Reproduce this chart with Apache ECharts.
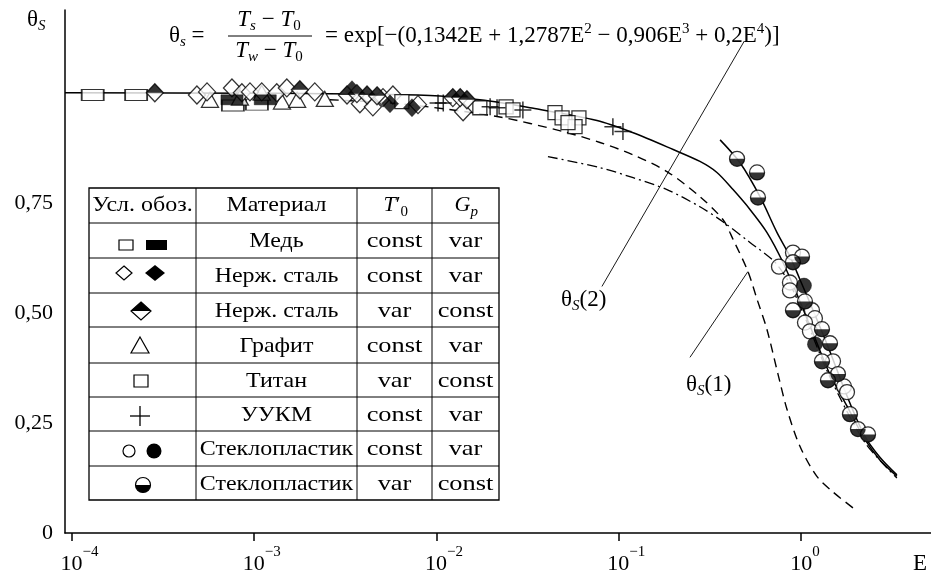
<!DOCTYPE html>
<html><head><meta charset="utf-8">
<script src="https://cdn.jsdelivr.net/npm/echarts@6/dist/echarts.min.js"></script>
<style>html,body{margin:0;padding:0;background:#fff}#c{width:931px;height:575px}</style>
</head><body><div id="c"></div>
<script>
// ---------- axis ticks ----------
const xTickExponents = [-4, -3, -2, -1, 0];
const yTickValues = [0, 0.25, 0.5, 0.75];
const yTickLabels = ['0', '0,25', '0,50', '0,75'];

// ---------- curves [E, theta] ----------
const curveMain = [[9.16e-5,1.0],[0.001,0.999],[0.0092,0.994],[0.0173,0.984],[0.0326,0.966],[0.076,0.937],[0.120,0.909],[0.199,0.871],[0.279,0.844],[0.346,0.819],[0.424,0.780],[0.525,0.735],[0.650,0.683],[0.796,0.615],[0.987,0.526],[1.19,0.444],[1.44,0.361],[1.79,0.288],[2.24,0.213],[2.71,0.166],[3.36,0.129]];
const curveGlass = [[0.360,0.893],[0.463,0.841],[0.596,0.764],[0.738,0.683],[0.871,0.628],[0.987,0.576],[1.19,0.497],[1.44,0.413],[1.79,0.311],[2.24,0.220],[2.71,0.172],[3.36,0.132]];
const curveTheta1 = [[0.0026,0.984],[0.0063,0.975],[0.0215,0.946],[0.0494,0.912],[0.0789,0.887],[0.120,0.859],[0.184,0.821],[0.279,0.764],[0.373,0.712],[0.424,0.667],[0.512,0.594],[0.574,0.531],[0.650,0.463],[0.748,0.361],[0.838,0.281],[0.987,0.197],[1.22,0.129],[1.50,0.093],[2.03,0.050]];
const curveTheta2 = [[0.0409,0.855],[0.0789,0.830],[0.120,0.807],[0.184,0.780],[0.279,0.741],[0.373,0.707],[0.525,0.660],[0.720,0.615],[0.870,0.565],[1.052,0.490],[1.443,0.354],[2.24,0.206],[3.36,0.125]];
const leaderTheta2 = [[0.0809,0.560],[0.4866,1.116]];
const leaderTheta1 = [[0.246,0.399],[0.512,0.594]];

// ---------- experimental points [E, theta] ----------
const copperOpen = [[1.30e-4,0.995],[2.25e-4,0.995],[7.64e-4,0.971],[1.035e-3,0.973]];
const copperFilled = [[7.55e-4,0.984],[1.15e-3,0.984]];
const steelOpen = [[4.85e-4,0.995],[5.51e-4,1.002],[7.55e-4,1.011],[8.56e-4,1.0],[9.48e-4,1.002],[1.10e-3,1.002],[1.33e-3,1.0],[1.51e-3,1.011],[2.15e-3,1.002],[3.80e-3,0.975],[4.48e-3,0.968],[5.09e-3,0.989],[5.77e-3,0.995],[7.92e-3,0.973],[0.0140,0.957]];
const steelFilled = [[3.44e-3,1.007],[5.56e-3,0.975],[7.34e-3,0.966]];
const steelHalf = [[2.85e-4,1.0],[1.78e-3,1.007],[3.23e-3,0.995],[3.66e-3,0.998],[4.16e-3,0.995],[4.72e-3,0.993],[0.0123,0.989],[0.0135,0.989],[0.0147,0.984]];
const graphite = [[5.72e-4,0.984],[8.35e-4,0.989],[1.10e-3,1.0],[1.42e-3,0.980],[1.72e-3,0.984],[2.44e-3,0.986]];
const titanium = [[6.46e-3,0.980],[0.0173,0.966],[0.0241,0.968],[0.0263,0.961],[0.0447,0.955],[0.0489,0.943],[0.0605,0.943],[0.0576,0.923],[0.0527,0.932]];
const uukm = [[0.0102,0.977],[0.0109,0.977],[0.0197,0.968],[0.0215,0.966],[0.0298,0.961],[0.0929,0.923],[0.1055,0.912]];
const glassOpen = [[0.904,0.637],[0.7575,0.605],[0.870,0.569],[0.870,0.551],[1.149,0.506],[1.193,0.488],[1.052,0.478],[1.120,0.458],[1.499,0.390],[1.722,0.333],[1.789,0.320]];
const glassFilled = [[1.039,0.562],[1.193,0.429]];
const glassHalf = [[0.446,0.850],[0.574,0.819],[0.581,0.762],[1.013,0.628],[0.904,0.615],[1.052,0.526],[0.904,0.506],[1.304,0.463],[1.443,0.431],[1.304,0.390],[1.596,0.361],[1.407,0.347],[1.857,0.270],[2.055,0.236],[2.332,0.224]];

// ---------- table ----------
const tableHeader = ['Усл. обоз.', 'Материал'];
const materials = ['Медь','Нерж. сталь','Нерж. сталь','Графит','Титан','УУКМ','Стеклопластик','Стеклопластик'];
const t0Column = ['const','const','var','const','var','const','const','var'];
const gpColumn = ['var','var','const','var','const','var','var','const'];

const FF = '"Liberation Serif", "Times New Roman", serif';
const chart = echarts.init(document.getElementById('c'), null, {renderer:'canvas'});

// half circle (bottom half) path
let hc = 'path://M0,0';
for (let i = 0; i <= 24; i++) { const t = Math.PI * i / 24; hc += ' L' + (10 + 10*Math.cos(t)).toFixed(3) + ',' + (10*Math.sin(t)).toFixed(3); }
hc += ' Z';
const halfCirclePath = hc;
const halfDiamondPath = 'path://M0,10 L10,0 L20,10 Z';
const plusPath = 'path://M0,10 L20,10 M10,0 L10,20';

const openStyle = {color:'#fff', borderColor:'#000', borderWidth:1.3};
const blackStyle = {color:'#000', borderColor:'#000', borderWidth:0.5};

function sc(name, data, symbol, size, style, extra) {
  return Object.assign({type:'scatter', name, data, symbol, symbolSize:size, itemStyle:style, silent:true, z:5}, extra||{});
}
function ln(data, width, type, extra) {
  return Object.assign({type:'line', data, symbol:'none', showSymbol:false, silent:true, smooth:0.3,
    lineStyle:{color:'#000', width:width, type:type}, z:3}, extra||{});
}

const rich = {
  m: {fontFamily:FF, fontSize:23, lineHeight:28, verticalAlign:'middle', color:'#000'},
  it: {fontFamily:FF, fontSize:23, fontStyle:'italic', lineHeight:28, verticalAlign:'middle', color:'#000'},
  sub: {fontFamily:FF, fontSize:15, fontStyle:'italic', lineHeight:15, verticalAlign:'bottom', color:'#000'},
  subr: {fontFamily:FF, fontSize:15, lineHeight:15, verticalAlign:'bottom', color:'#000'},
  sup: {fontFamily:FF, fontSize:15, lineHeight:15, verticalAlign:'top', color:'#000'}
};
function rt(x, y, text, align, extraRich, sx) {
  return {type:'text', x:x, y:y, scaleX:sx||1, z:20, silent:true,
    style:{x:0, y:0, text:text, rich:Object.assign({}, rich, extraRich||{}), align:align||'left', textAlign:align||'left', verticalAlign:'middle', textVerticalAlign:'middle', fill:'#000', font:'23px '+FF}};
}
function tx(x, y, text, size, sx) {
  return {type:'text', x:x, y:y, scaleX:sx||1, z:20, silent:true, style:{x:0, y:0, text:text, font:(size||22)+'px '+FF, fill:'#000', align:'center', textAlign:'center', verticalAlign:'middle', textVerticalAlign:'middle'}};
}

// ---------- graphic: table + annotations ----------
const colX = [89,196,357,432,499];
const rowY = [188,223,258,293,327,363,397,431,466,500];
const TS = 1.09; // horizontal stretch of table text
const G = [];
G.push({type:'rect', z:15, silent:true, shape:{x:colX[0], y:rowY[0], width:colX[4]-colX[0], height:rowY[9]-rowY[0]}, style:{fill:'#fff', stroke:'#000', lineWidth:1.3}});
for (let i = 1; i < 4; i++) G.push({type:'line', z:16, silent:true, shape:{x1:colX[i], y1:rowY[0], x2:colX[i], y2:rowY[9]}, style:{stroke:'#000', lineWidth:1}});
for (let j = 1; j < 9; j++) G.push({type:'line', z:16, silent:true, shape:{x1:colX[0], y1:rowY[j], x2:colX[4], y2:rowY[j]}, style:{stroke:'#000', lineWidth:1}});
const cx = i => (colX[i]+colX[i+1])/2, cy = j => (rowY[j]+rowY[j+1])/2;
G.push(tx(cx(0), cy(0), tableHeader[0], 22, TS));
G.push(tx(cx(1), cy(0), tableHeader[1], 22, TS));
G.push(rt(cx(2)-11, cy(0), '{it|T}{m|′}{subr|0}', 'left', {m:{fontFamily:FF,fontSize:22,lineHeight:28,verticalAlign:'middle'}, it:{fontFamily:FF,fontSize:22,fontStyle:'italic',lineHeight:28,verticalAlign:'middle'}}));
G.push(rt(cx(3)-11, cy(0), '{it|G}{sub|p}', 'left', {it:{fontFamily:FF,fontSize:22,fontStyle:'italic',lineHeight:28,verticalAlign:'middle'}}));
materials.forEach((m, k) => {
  G.push(tx(cx(1), cy(k+1)+1, m, 22, TS));
  G.push(tx(cx(2), cy(k+1)+1, t0Column[k], 22, 1.2));
  G.push(tx(cx(3), cy(k+1)+1, gpColumn[k], 22, 1.2));
});
const LS = {stroke:'#000', lineWidth:1.2, fill:'#fff'};
const LB = {fill:'#000'};
// row 1 copper
G.push({type:'rect', z:17, silent:true, shape:{x:119, y:240, width:14, height:10}, style:LS});
G.push({type:'rect', z:17, silent:true, shape:{x:146, y:240, width:21, height:10}, style:LB});
// row 2 steel
G.push({type:'polygon', z:17, silent:true, shape:{points:[[124,266],[132,273],[124,280],[116,273]]}, style:LS});
G.push({type:'polygon', z:17, silent:true, shape:{points:[[155,265],[165,273],[155,281],[145,273]]}, style:LB});
// row 3 half diamond
G.push({type:'polygon', z:17, silent:true, shape:{points:[[141,302],[151,311],[141,320],[131,311]]}, style:LS});
G.push({type:'polygon', z:18, silent:true, shape:{points:[[141,302],[151,311],[131,311]]}, style:LB});
// row 4 triangle
G.push({type:'polygon', z:17, silent:true, shape:{points:[[140,337],[149,353],[131,353]]}, style:LS});
// row 5 square
G.push({type:'rect', z:17, silent:true, shape:{x:134, y:375, width:14, height:12}, style:LS});
// row 6 plus
G.push({type:'line', z:17, silent:true, shape:{x1:130, y1:416, x2:150, y2:416}, style:{stroke:'#000', lineWidth:1.3}});
G.push({type:'line', z:17, silent:true, shape:{x1:140, y1:406, x2:140, y2:426}, style:{stroke:'#000', lineWidth:1.3}});
// row 7 circles
G.push({type:'circle', z:17, silent:true, shape:{cx:129, cy:451, r:6}, style:LS});
G.push({type:'circle', z:17, silent:true, shape:{cx:154, cy:451, r:7.5}, style:LB});
// row 8 half circle
G.push({type:'circle', z:17, silent:true, shape:{cx:143, cy:485, r:7.5}, style:LS});
G.push({type:'sector', z:18, silent:true, shape:{cx:143, cy:485, r:7.5, startAngle:0, endAngle:Math.PI}, style:LB});

// formula
G.push(rt(169, 36, '{m|θ}{sub|s}{m| =}'));
G.push(rt(269, 20, '{it|T}{sub|s}{m| − }{it|T}{subr|0}', 'center'));
G.push({type:'line', z:20, silent:true, shape:{x1:228, y1:36, x2:312, y2:36}, style:{stroke:'#000', lineWidth:1}});
G.push(rt(269, 51, '{it|T}{sub|w}{m| − }{it|T}{subr|0}', 'center'));
G.push(rt(325, 36, '{m|= exp[−(0,1342E + 1,2787E}{sup|2}{m| − 0,906E}{sup|3}{m| + 0,2E}{sup|4}{m|)]}'));
// axis titles
G.push(rt(27, 20, '{m|θ}{sub|S}'));
G.push(tx(920, 564, 'E', 23));
// curve labels
G.push(rt(561, 300, '{m|θ}{sub|S}{m|(2)}'));
G.push(rt(686, 385, '{m|θ}{sub|S}{m|(1)}'));

const option = {
  animation:false,
  backgroundColor:'#fff',
  grid:{left:65, right:0, top:10, bottom:41, containLabel:false},
  xAxis:{
    type:'log', logBase:10, min:9.16e-5, max:5.17,
    axisLine:{show:true, onZero:false, lineStyle:{color:'#000', width:1.5}},
    axisTick:{show:true, length:8, lineStyle:{color:'#000', width:1.5}, customValues:xTickExponents.map(e=>Math.pow(10,e))},
    minorTick:{show:false}, splitLine:{show:false},
    axisLabel:{
      margin:12,
      customValues:xTickExponents.map(e=>Math.pow(10,e)),
      formatter:function(v){
        const e = Math.log10(v); const r = Math.round(e);
        if (Math.abs(e-r) > 1e-6 || xTickExponents.indexOf(r) < 0) return '';
        return (r<0 ? '{spw|}' : '{spn|}') + '{b|10}{s|' + (r<0 ? '−'+(-r) : r) + '}';
      },
      rich:{
        spw:{width:15, fontSize:15},
        spn:{width:8, fontSize:15},
        b:{fontFamily:FF, fontSize:22, lineHeight:30, verticalAlign:'bottom', color:'#000'},
        s:{fontFamily:FF, fontSize:15, lineHeight:18, verticalAlign:'top', color:'#000'}
      }
    }
  },
  yAxis:{
    type:'value', min:0, max:1.188, interval:0.25,
    axisLine:{show:true, lineStyle:{color:'#000', width:1.5}},
    axisTick:{show:false}, splitLine:{show:false},
    axisLabel:{margin:12, color:'#000', fontFamily:FF, fontSize:22,
      formatter:function(v){ const i = yTickValues.indexOf(v); return i<0 ? '' : yTickLabels[i]; }}
  },
  graphic:G,
  series:[
    ln(curveMain, 1.5, 'solid'),
    ln(curveGlass, 1.5, 'solid'),
    ln(curveTheta1, 1.4, [9,6]),
    ln(curveTheta2, 1.3, [10,4,2,4]),
    ln(leaderTheta2, 0.9, 'solid', {smooth:false}),
    ln(leaderTheta1, 0.9, 'solid', {smooth:false}),
    sc('copperOpen', copperOpen, 'rect', [22,11], openStyle),
    sc('graphite', graphite, 'triangle', [17,15], openStyle),
    sc('steelOpen', steelOpen, 'diamond', [17,18], openStyle),
    sc('titanium', titanium, 'rect', [14,14], openStyle),
    sc('steelFilled', steelFilled, 'diamond', [17,18], blackStyle),
    sc('steelHalfBase', steelHalf, 'diamond', [17,18], openStyle),
    sc('steelHalfTop', steelHalf, halfDiamondPath, [17,9], {color:'#000', borderWidth:0}, {symbolOffset:[0,-4.5]}),
    sc('copperFilled', copperFilled, 'rect', [22,10], blackStyle),
    sc('uukm', uukm, plusPath, [17,17], {color:'none', borderColor:'#000', borderWidth:1.5}),
    sc('glassOpen', glassOpen, 'circle', 15, openStyle),
    sc('glassFilled', glassFilled, 'circle', 15, blackStyle),
    sc('glassHalfBase', glassHalf, 'circle', 15, openStyle),
    sc('glassHalfBottom', glassHalf, halfCirclePath, [15,7.5], {color:'#000', borderWidth:0}, {symbolOffset:[0,3.75]})
  ]
};
chart.setOption(option);
</script></body></html>
